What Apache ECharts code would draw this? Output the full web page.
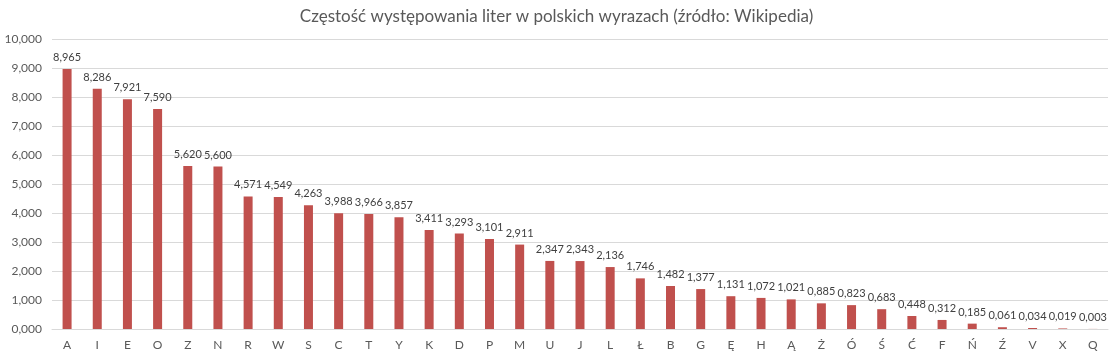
<!DOCTYPE html>
<html>
<head>
<meta charset="utf-8">
<script src="https://cdn.jsdelivr.net/npm/echarts@6/dist/echarts.min.js"></script>
<style>
  html, body { margin: 0; padding: 0; background: #fff; }
  #main { width: 1113px; height: 354px; }
</style>
</head>
<body>
<div id="main"></div>
<script>
// litery i ich czestosc (%)
var letters = ['A','I','E','O','Z','N','R','W','S','C','T','Y','K','D','P','M','U','J','L','Ł','B','G','Ę','H','Ą','Ż','Ó','Ś','Ć','F','Ń','Ź','V','X','Q'];
var freq = [8.965, 8.286, 7.921, 7.590, 5.620, 5.600, 4.571, 4.549, 4.263, 3.988, 3.966, 3.857, 3.411, 3.293, 3.101, 2.911, 2.347, 2.343, 2.136, 1.746, 1.482, 1.377, 1.131, 1.072, 1.021, 0.885, 0.823, 0.683, 0.448, 0.312, 0.185, 0.061, 0.034, 0.019, 0.003];
var yTicks = [0, 1, 2, 3, 4, 5, 6, 7, 8, 9, 10];

function fmt(v) {
    return Number(v).toFixed(3).replace('.', ',');
}

var myChart = echarts.init(document.getElementById('main'));
var font = 'Lato, "Open Sans", sans-serif';

var option = {
    animation: false,
    title: {
        text: 'Częstość występowania liter w polskich wyrazach (źródło: Wikipedia)',
        left: 'center',
        top: 3,
        textStyle: { fontFamily: font, fontSize: 17, fontWeight: 'normal', color: '#595959' }
    },
    grid: { left: 52, right: 5, top: 39, bottom: 25 },
    xAxis: {
        type: 'category',
        data: letters,
        axisLine: { lineStyle: { color: '#d9d9d9' } },
        axisTick: { show: false },
        axisLabel: { fontFamily: font, fontSize: 12, color: '#595959', margin: 10, interval: 0 }
    },
    yAxis: {
        type: 'value',
        min: yTicks[0],
        max: yTicks[yTicks.length - 1],
        interval: 1,
        axisLine: { show: false },
        axisTick: { show: false },
        splitLine: { lineStyle: { color: '#d9d9d9' } },
        axisLabel: { fontFamily: font, fontSize: 12, color: '#595959', margin: 10, formatter: fmt }
    },
    series: [{
        type: 'bar',
        data: freq,
        barWidth: 9,
        itemStyle: { color: '#c0504d' },
        label: {
            show: true,
            position: 'top',
            distance: 6,
            fontFamily: font,
            fontSize: 11,
            color: '#404040',
            formatter: function (p) { return fmt(p.value); }
        }
    }]
};
myChart.setOption(option);
window.onresize = function () {
    myChart.resize();
};
</script>
</body>
</html>
